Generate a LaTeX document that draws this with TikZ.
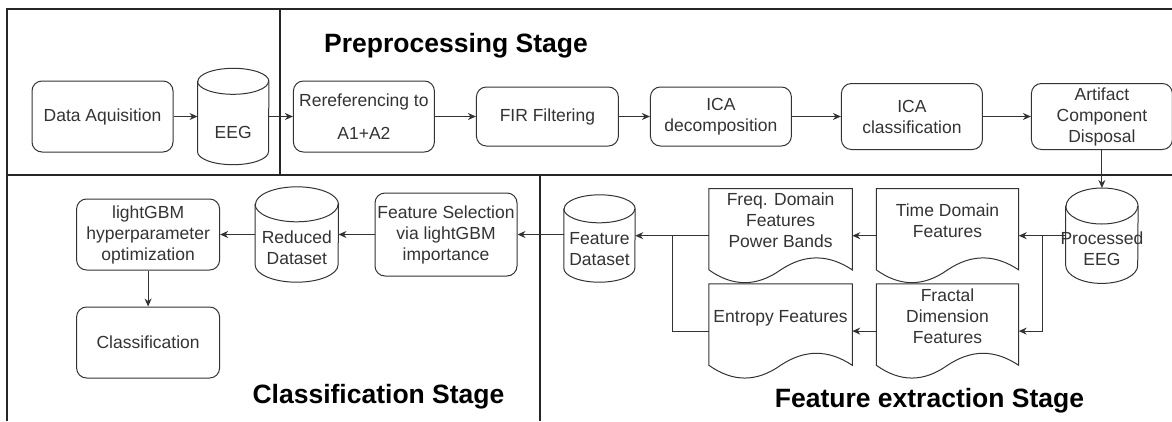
\documentclass[tikz,border=0pt]{standalone}
\usepackage{fontspec}
\setmainfont{Liberation Sans}
\usetikzlibrary{positioning, calc, arrows.meta}

\begin{document}
\begin{tikzpicture}[x=1pt, y=-1pt]
  \newcommand\celltext[2]{\raisebox{#1}[\height][\depth]{\makebox[0pt]{\begin{tabular}{@{}c@{}}#2\end{tabular}}}}
  \newcommand\wavelift{13}
  \newcommand\stackgap{1pt}
  \newcommand\dropgap{36pt}

  \tikzset{outline/.style={draw=black!80, line width=1pt}}
  \tikzset{frame/.style={draw=black!85, line width=1.2pt}}
  \tikzset{boxfont/.style={text=black!80, font=\fontsize{17.5}{21}\selectfont}}
  \tikzset{procbox/.style={outline, boxfont, rounded corners=10pt, align=center, inner sep=1pt, minimum width=141pt}}
  \tikzset{dbnode/.style={boxfont, inner sep=0pt}}
  \tikzset{docnode/.style={boxfont, inner sep=0pt, minimum width=142pt, minimum height=94pt}}
  \tikzset{flow/.style={outline, -{Stealth[length=8pt, width=7pt]}}}
  \tikzset{stagetitle/.style={font=\fontsize{26.5}{30}\selectfont\bfseries, anchor=base}}

  \useasboundingbox (0,0) rectangle (1172,421);

  % stage frames
  \draw[frame] (7,421) -- (7,9) -- (1172,9);
  \draw[frame] (7,175) -- (1172,175);
  \draw[frame] (280,9) -- (280,175);
  \draw[frame] (540,175) -- (540,421);

  \node[stagetitle] at (456,52) (pre-t) {Preprocessing Stage};
  \node[stagetitle] at (378.5,403) (cls-t) {Classification Stage};
  \node[stagetitle] at (929.5,407) (fe-t) {Feature extraction Stage};

  % preprocessing row
  \node[procbox, minimum height=71pt] at (102.5,116.5) (da) {Data Aquisition};
  \node[dbnode, minimum width=71pt, minimum height=96pt, right=24pt of da] (eeg) {\celltext{-18pt}{EEG}};
  \node[procbox, minimum height=71pt, right=24pt of eeg] (reref) {Rereferencing to\\[12pt]A1+A2};
  \node[procbox, minimum width=142pt, minimum height=59pt, right=41pt of reref] (fir) {FIR Filtering};
  \node[procbox, minimum height=59pt, right=31pt of fir] (icad) {ICA\\decomposition};
  \node[procbox, minimum height=66pt, right=49pt of icad] (icac) {ICA\\classification};
  \node[procbox, minimum height=66pt, right=48pt of icac] (acd) {Artifact\\Component\\Disposal};

  \foreach \a/\b in {da/eeg, eeg/reref, reref/fir, fir/icad, icad/icac, icac/acd}{
    \draw[flow] (\a.east) -- (\b.west);
  }

  % feature extraction
  \node[dbnode, minimum width=72pt, minimum height=95pt, below=38pt of acd] (peeg) {\celltext{-15pt}{Processed\\EEG}};
  \node[docnode, left=47pt of peeg] (td) {\celltext{13pt}{Time Domain\\Features}};
  \node[docnode, below=\stackgap of td] (fd) {\celltext{13pt}{Fractal\\Dimension\\Features}};
  \node[docnode, minimum width=143pt, left=24pt of td] (freq) {\celltext{13pt}{Freq. Domain\\Features\\Power Bands}};
  \node[docnode, minimum width=143pt, below=\stackgap of freq] (ent) {\celltext{13pt}{Entropy Features}};
  \node[dbnode, minimum width=71pt, minimum height=87pt] at (599.5,238.5) (fds) {\celltext{-12pt}{Feature\\Dataset}};

  % classification
  \node[procbox, minimum width=142pt, minimum height=83pt] at (446,234.5) (fs) {Feature Selection\\via lightGBM\\importance};
  \node[dbnode, minimum width=83pt, minimum height=95pt, left=36pt of fs] (rds) {\celltext{-15pt}{Reduced\\Dataset}};
  \node[procbox, minimum width=143pt, minimum height=71pt, left=35pt of rds] (lgb) {lightGBM\\hyperparameter\\optimization};
  \node[procbox, minimum width=143pt, minimum height=71pt, below=\dropgap of lgb] (cls) {Classification};

  % cylinders
  \foreach \n/\rx/\ry in {eeg/35.5/13, peeg/36/18, rds/41.5/17.5, fds/35.5/14}{
    \draw[outline] ([shift={(0,\ry)}]\n.north west) -- ([shift={(0,-\ry)}]\n.south west)
      arc[start angle=180, end angle=360, x radius=\rx*1pt, y radius=\ry*1pt]
      -- ([shift={(0,\ry)}]\n.north east)
      arc[start angle=0, end angle=180, x radius=\rx*1pt, y radius=\ry*1pt] -- cycle;
    \draw[outline] ([shift={(0,\ry)}]\n.north west)
      arc[start angle=180, end angle=360, x radius=\rx*1pt, y radius=\ry*1pt];
  }

  % documents
  \foreach \n in {td, fd, freq, ent}{
    \draw[outline] (\n.north west) -- (\n.north east) -- ([shift={(0,-\wavelift)}]\n.south east)
      .. controls +(-24,-16) and +(24,-16) .. ([shift={(0,-\wavelift)}]\n.south)
      .. controls +(-24,17) and +(24,17) .. ([shift={(0,-\wavelift)}]\n.south west) -- cycle;
  }

  \draw[flow] (acd.south) -- (peeg.north);
  \draw[flow] (peeg.west) -- (td.east);
  \coordinate (split1) at ($(peeg.west)!0.5!(td.east)$);
  \draw[flow] (split1) |- (fd.east);
  \draw[flow] (td.west) -- (freq.east);
  \draw[flow] (fd.west) -- (ent.east);
  \draw[flow] (freq.west) -- (freq.west -| fds.east);
  \coordinate (split2) at ($(freq.west)!0.5!(freq.west -| fds.east)$);
  \draw[outline] (ent.west) -| (split2);
  \draw[flow] (fds.west |- fs.east) -- (fs.east);
  \draw[flow] (fs.west) -- (rds.east);
  \draw[flow] (rds.west) -- (lgb.east);
  \draw[flow] (lgb.south) -- (cls.north);
\end{tikzpicture}
\end{document}
